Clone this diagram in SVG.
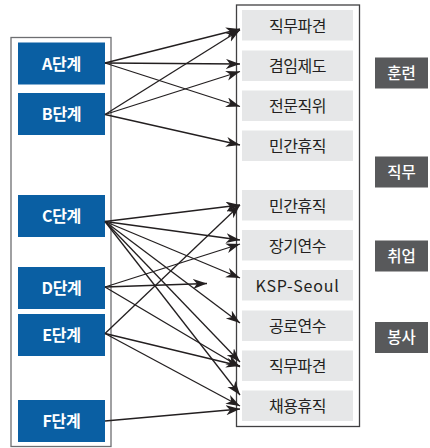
<svg xmlns="http://www.w3.org/2000/svg" width="430" height="448" viewBox="0 0 430 448">
<style>
.frame{fill:#ffffff;stroke:#6d6e71;stroke-width:1.3}
.rframe{fill:#ffffff;stroke:#414042;stroke-width:1.3}
.stage rect{fill:#0a5fa3}
.stage text{fill:#ffffff;font-family:"Noto Sans CJK KR","Noto Sans",sans-serif;font-weight:bold;font-size:16px;text-anchor:middle;letter-spacing:-0.3px}
.item rect{fill:#e6e7e8}
.item text{fill:#231f20;font-family:"Noto Sans CJK KR","Noto Sans",sans-serif;font-size:16px;text-anchor:middle;letter-spacing:-0.5px}
.item text.latin{letter-spacing:0.8px}
.cat rect{fill:#58595b}
.cat text{fill:#ffffff;font-family:"Noto Sans CJK KR","Noto Sans",sans-serif;font-size:15.5px;text-anchor:middle;font-weight:500}
.conn line{stroke:#231f20;stroke-width:1.3;marker-end:url(#arr)}
</style>
<defs>
<marker id="arr" markerUnits="userSpaceOnUse" markerWidth="16" markerHeight="12" refX="14" refY="5" orient="auto">
<path d="M0,0 L14,5 L0,10 L4,5 Z" fill="#231f20"/>
</marker>
</defs>
<rect class="frame" x="11" y="37.5" width="100" height="409"/>
<rect class="rframe" x="236.5" y="5" width="123" height="421.5"/>
<g id="stage-A" class="stage"><rect x="18" y="42.5" width="87" height="42"/><text x="61.5" y="69.5">A단계</text></g>
<g id="stage-B" class="stage"><rect x="18" y="93" width="87" height="42"/><text x="61.5" y="120">B단계</text></g>
<g id="stage-C" class="stage"><rect x="18" y="195" width="87" height="42"/><text x="61.5" y="222">C단계</text></g>
<g id="stage-D" class="stage"><rect x="18" y="267" width="87" height="42"/><text x="61.5" y="294">D단계</text></g>
<g id="stage-E" class="stage"><rect x="18" y="314" width="87" height="42"/><text x="61.5" y="341">E단계</text></g>
<g id="stage-F" class="stage"><rect x="18" y="400" width="87" height="42"/><text x="61.5" y="427">F단계</text></g>
<g id="item-1" class="item"><rect x="242" y="10" width="111" height="30.5"/><text x="297.5" y="31.5">직무파견</text></g>
<g id="item-2" class="item"><rect x="242" y="50.5" width="111" height="30.5"/><text x="297.5" y="72">겸임제도</text></g>
<g id="item-3" class="item"><rect x="242" y="90.5" width="111" height="30.5"/><text x="297.5" y="112">전문직위</text></g>
<g id="item-4" class="item"><rect x="242" y="130.5" width="111" height="30.5"/><text x="297.5" y="152">민간휴직</text></g>
<g id="item-5" class="item"><rect x="242" y="190" width="111" height="30.5"/><text x="297.5" y="211.5">민간휴직</text></g>
<g id="item-6" class="item"><rect x="242" y="230" width="111" height="30.5"/><text x="297.5" y="251.5">장기연수</text></g>
<g id="item-7" class="item"><rect x="242" y="270" width="111" height="30.5"/><text class="latin" x="297.5" y="291.5">KSP-Seoul</text></g>
<g id="item-8" class="item"><rect x="242" y="310.5" width="111" height="30.5"/><text x="297.5" y="332">공로연수</text></g>
<g id="item-9" class="item"><rect x="242" y="350.5" width="111" height="30.5"/><text x="297.5" y="372">직무파견</text></g>
<g id="item-10" class="item"><rect x="242" y="390.5" width="111" height="30.5"/><text x="297.5" y="412">채용휴직</text></g>
<g id="cat-1" class="cat"><rect x="375" y="57.5" width="53" height="31"/><text x="401.5" y="78.5">훈련</text></g>
<g id="cat-2" class="cat"><rect x="375" y="156.5" width="53" height="31"/><text x="401.5" y="177.5">직무</text></g>
<g id="cat-3" class="cat"><rect x="375" y="240.5" width="53" height="31"/><text x="401.5" y="261.5">취업</text></g>
<g id="cat-4" class="cat"><rect x="375" y="322" width="53" height="31"/><text x="401.5" y="343">봉사</text></g>
<g id="connectors" class="conn">
<line x1="105" y1="63" x2="240" y2="29"/>
<line x1="105" y1="63" x2="240" y2="64"/>
<line x1="105" y1="63" x2="240" y2="106.5"/>
<line x1="105" y1="114.5" x2="240" y2="30"/>
<line x1="105" y1="114.5" x2="240" y2="71.5"/>
<line x1="105" y1="114.5" x2="240" y2="145"/>
<line x1="105" y1="221.5" x2="240" y2="205"/>
<line x1="105" y1="221.5" x2="240" y2="240"/>
<line x1="105" y1="221.5" x2="240" y2="278"/>
<line x1="105" y1="221.5" x2="240" y2="323"/>
<line x1="105" y1="221.5" x2="240" y2="362"/>
<line x1="105" y1="221.5" x2="240" y2="395"/>
<line x1="105" y1="287" x2="240" y2="244"/>
<line x1="105" y1="287" x2="207" y2="283.5"/>
<line x1="105" y1="287" x2="240" y2="367"/>
<line x1="105" y1="333.5" x2="240" y2="205"/>
<line x1="105" y1="333.5" x2="240" y2="366"/>
<line x1="105" y1="333.5" x2="240" y2="406"/>
<line x1="105" y1="421" x2="240" y2="409"/>
</g>
</svg>
